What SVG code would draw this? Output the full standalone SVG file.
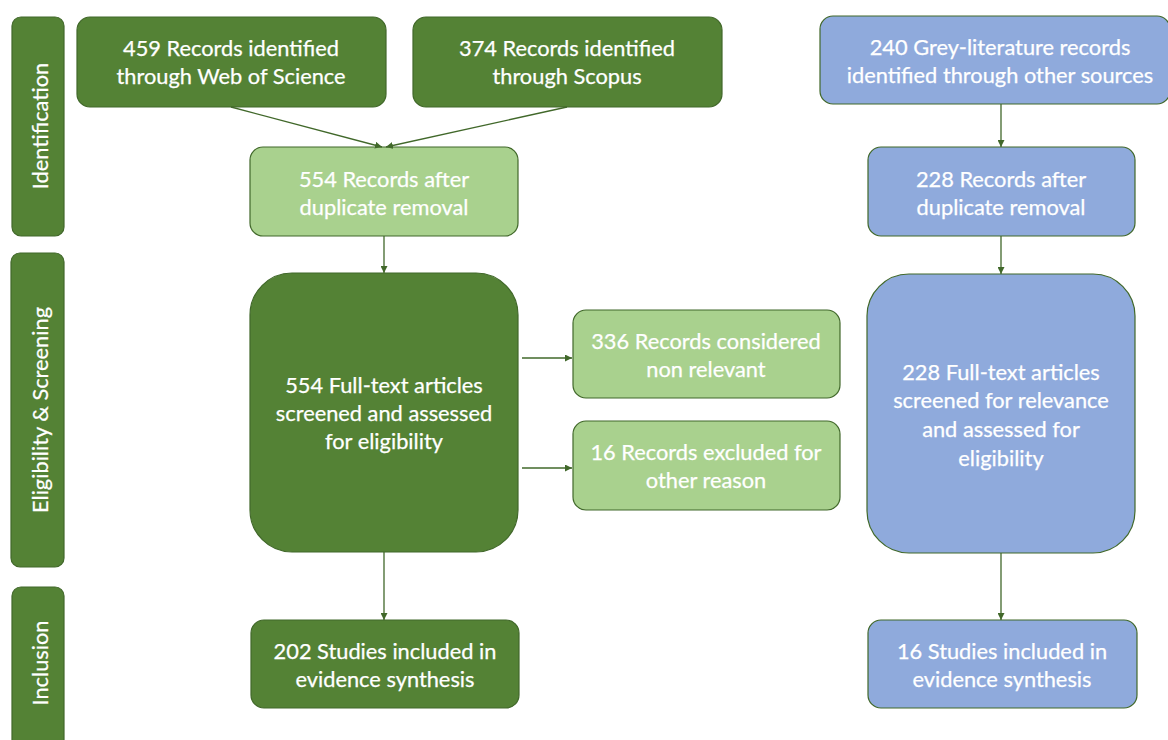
<svg xmlns="http://www.w3.org/2000/svg" width="1168" height="740" viewBox="0 0 1168 740">
<defs>
<style>
.dg{fill:#548235;stroke:#41682a;stroke-width:1.2}
.lg{fill:#A9D18E;stroke:#41682a;stroke-width:1.2}
.bl{fill:#8FAADC;stroke:#41682a;stroke-width:1.2}
text{font-family:Lato,"Open Sans","Liberation Sans",sans-serif;font-size:21.8px;fill:#ffffff;text-anchor:middle;dominant-baseline:central;stroke:#ffffff;stroke-width:0.25}
.c{stroke:#41682a;stroke-width:1.3;fill:none;marker-end:url(#ah)}
</style>
<marker id="ah" viewBox="0 0 10 10" refX="10" refY="5" markerWidth="7" markerHeight="7" orient="auto" markerUnits="userSpaceOnUse">
<path d="M0,0 L10,5 L0,10 z" fill="#41682a"/>
</marker>
</defs>
<g id="phase-identification"><rect class="dg" x="12" y="17" width="52" height="219" rx="9"/><text transform="translate(39,126) rotate(-90)">Identification</text></g>
<g id="phase-eligibility"><rect class="dg" x="11" y="253" width="53" height="314" rx="9"/><text transform="translate(39,410) rotate(-90)">Eligibility &amp; Screening</text></g>
<g id="phase-inclusion"><rect class="dg" x="12" y="587" width="52" height="165" rx="9"/><text transform="translate(39,663) rotate(-90)">Inclusion</text></g>

<g id="wos"><rect class="dg" x="77" y="17" width="309" height="90" rx="13"/><text x="231" y="47">459 Records identified</text><text x="231" y="75">through Web of Science</text></g>
<g id="scopus"><rect class="dg" x="413" y="17" width="309" height="90" rx="13"/><text x="567" y="47">374 Records identified</text><text x="567" y="75">through Scopus</text></g>
<g id="grey"><rect class="bl" x="820" y="16" width="350" height="88" rx="13"/><text x="1000" y="46">240 Grey-literature records</text><text x="1000" y="74">identified through other sources</text></g>

<g id="dup-green"><rect class="lg" x="250" y="147" width="268" height="89" rx="13"/><text x="384" y="178">554 Records after</text><text x="384" y="206">duplicate removal</text></g>
<g id="dup-blue"><rect class="bl" x="868" y="147" width="267" height="89" rx="13"/><text x="1001" y="178">228 Records after</text><text x="1001" y="206">duplicate removal</text></g>

<g id="fulltext-green"><rect class="dg" x="250" y="273" width="268" height="279" rx="42"/><text x="384" y="384">554 Full-text articles</text><text x="384" y="412">screened and assessed</text><text x="384" y="440">for eligibility</text></g>
<g id="nonrelevant"><rect class="lg" x="573" y="310" width="267" height="88" rx="13"/><text x="706" y="340">336 Records considered</text><text x="706" y="368">non relevant</text></g>
<g id="excluded"><rect class="lg" x="573" y="421" width="267" height="89" rx="13"/><text x="706" y="451">16 Records excluded for</text><text x="706" y="479">other reason</text></g>
<g id="fulltext-blue"><rect class="bl" x="867" y="274" width="268" height="279" rx="42"/><text x="1001" y="371">228 Full-text articles</text><text x="1001" y="399">screened for relevance</text><text x="1001" y="428">and assessed for</text><text x="1001" y="457">eligibility</text></g>

<g id="included-green"><rect class="dg" x="251" y="620" width="268" height="88" rx="13"/><text x="385" y="650">202 Studies included in</text><text x="385" y="678">evidence synthesis</text></g>
<g id="included-blue"><rect class="bl" x="868" y="620" width="269" height="88" rx="13"/><text x="1002" y="650">16 Studies included in</text><text x="1002" y="678">evidence synthesis</text></g>

<g id="connectors">
<path class="c" d="M231,107 L382,147"/>
<path class="c" d="M567,107 L386,147"/>
<path class="c" d="M384,236 L384,273"/>
<path class="c" d="M384,552 L384,620"/>
<path class="c" d="M522,358 L572,358"/>
<path class="c" d="M522,468 L572,468"/>
<path class="c" d="M1001,104 L1001,147"/>
<path class="c" d="M1001,236 L1001,274"/>
<path class="c" d="M1001,553 L1001,620"/>
</g>
</svg>
